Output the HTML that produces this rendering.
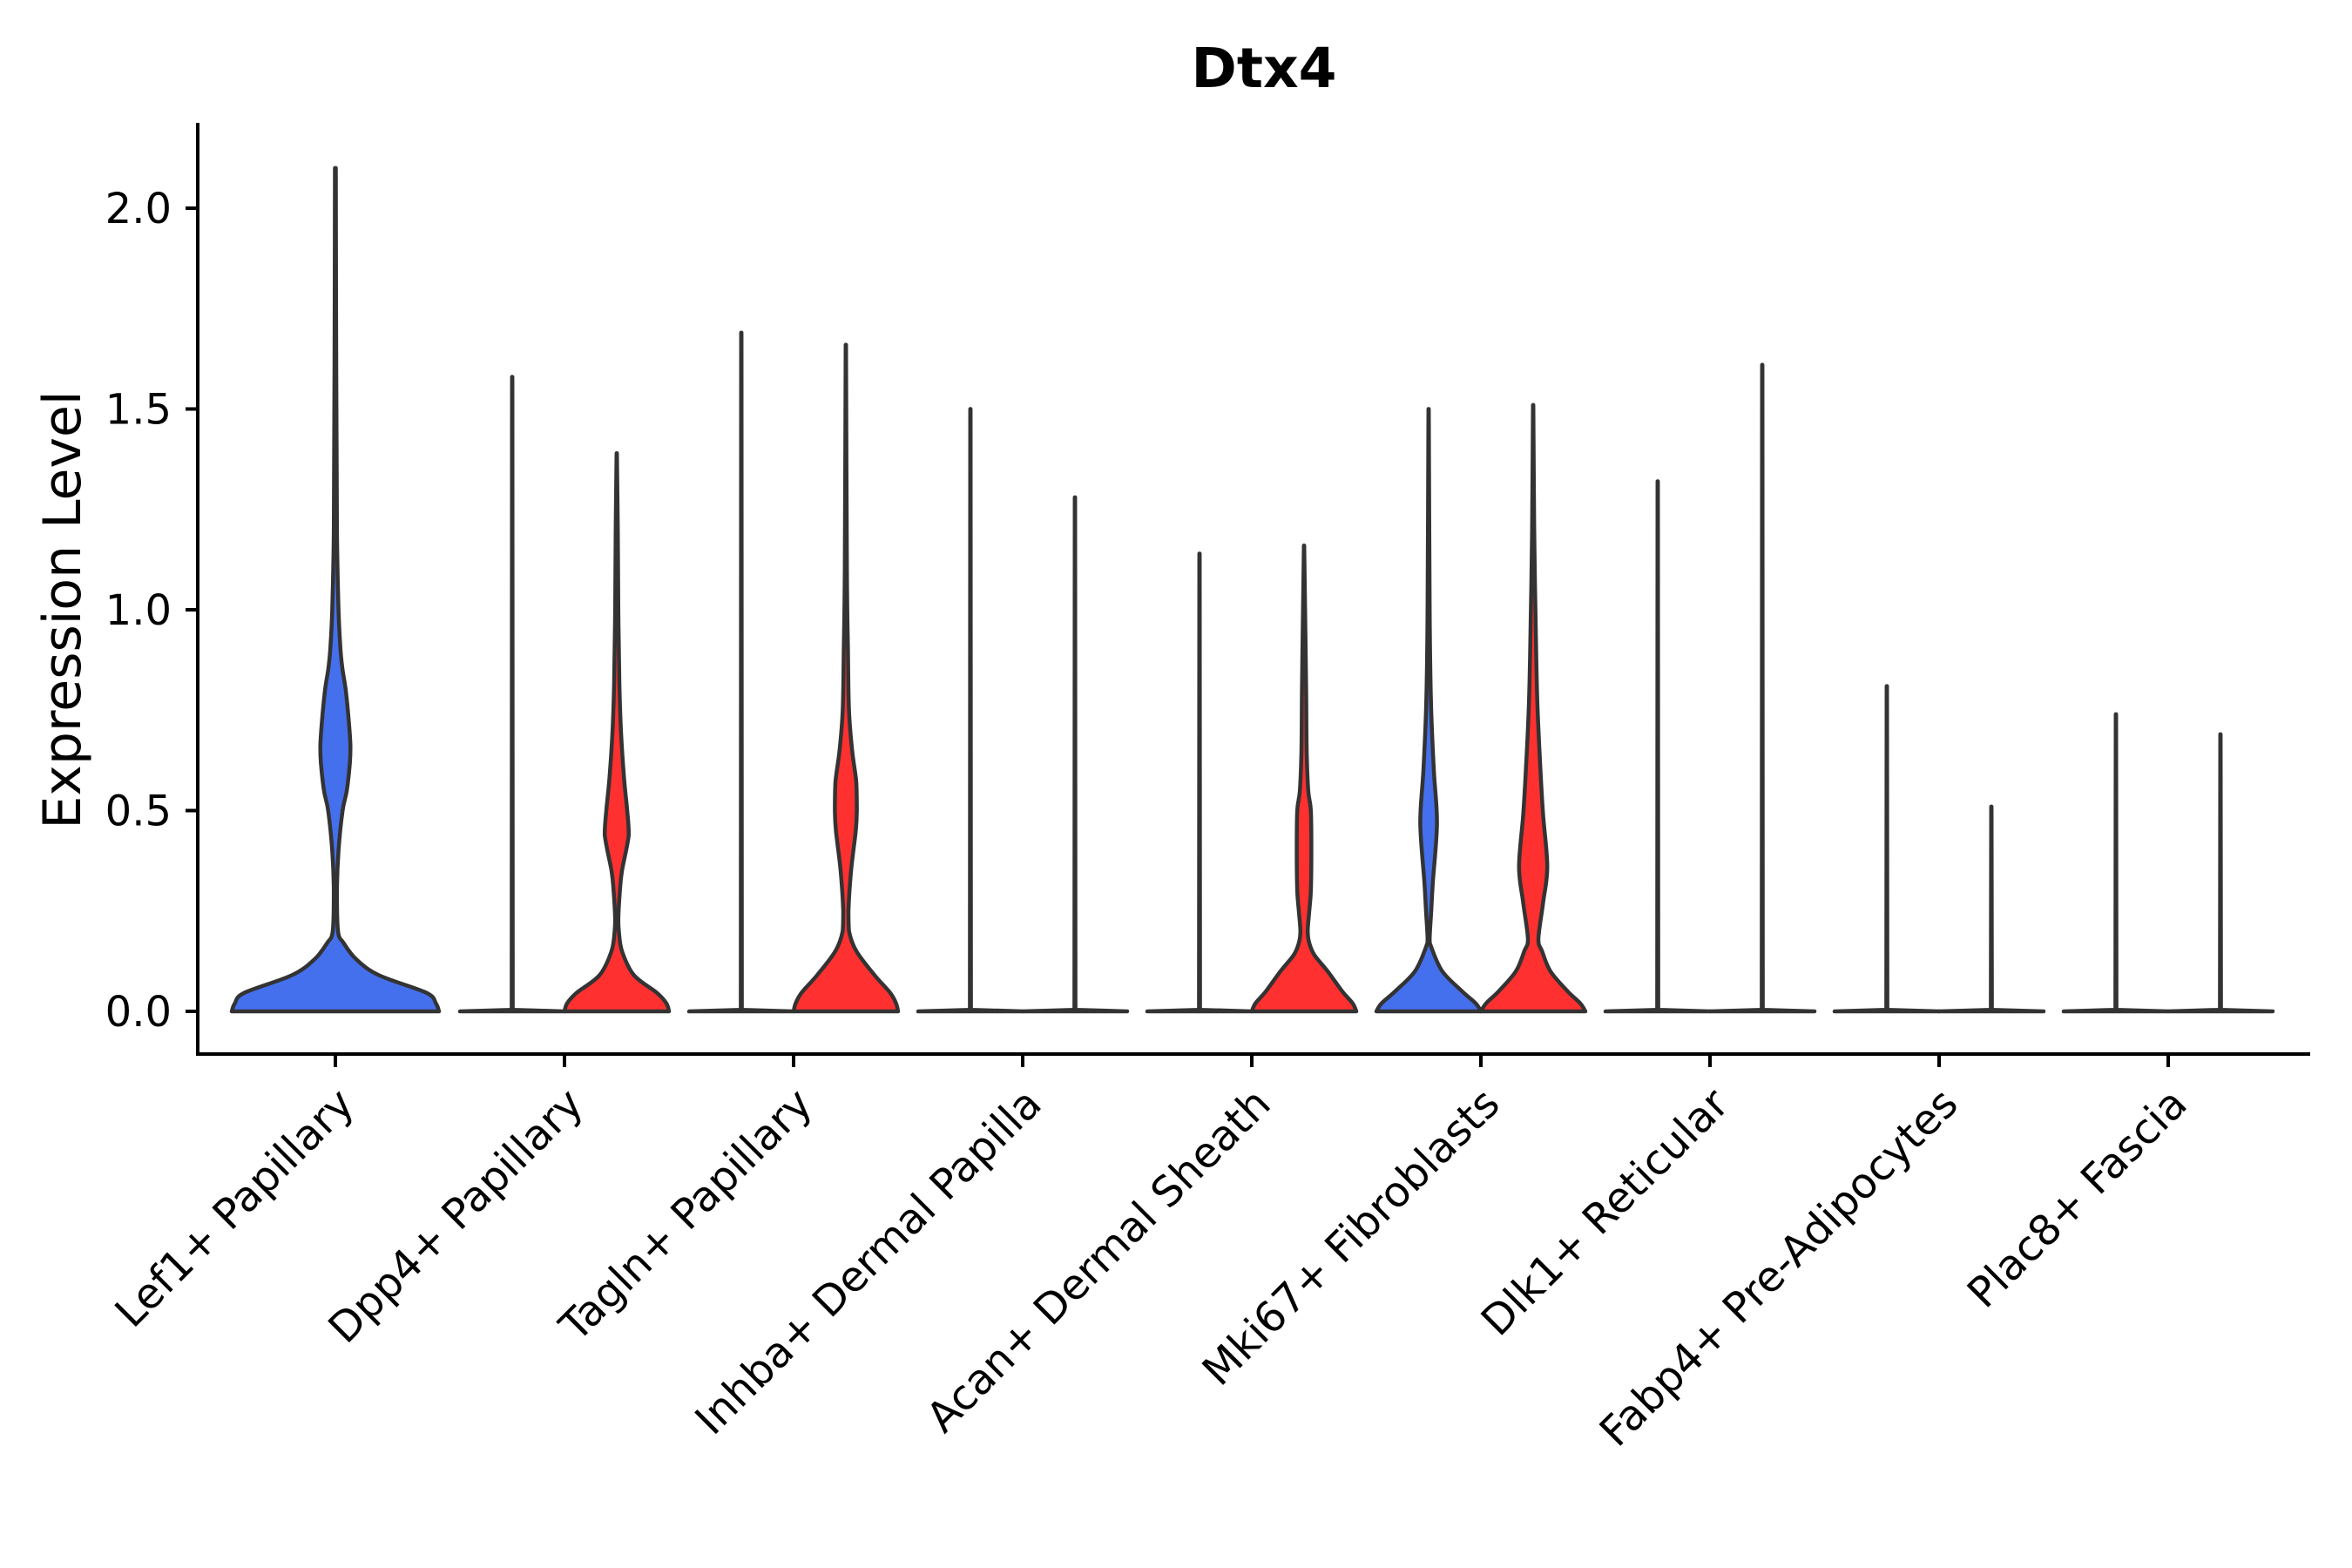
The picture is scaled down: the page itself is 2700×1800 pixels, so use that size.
<!DOCTYPE html>
<html><head><meta charset="utf-8"><style>
html,body{margin:0;padding:0;background:#fff}
svg{display:block}
text{font-family:"DejaVu Sans","Liberation Sans",sans-serif}
</style></head><body>
<svg id="chart" width="2700" height="1800" viewBox="0 0 2700 1800" xmlns="http://www.w3.org/2000/svg">
<text x="1451" y="100" text-anchor="middle" font-size="63" font-weight="bold">Dtx4</text>
<text transform="translate(92,700) rotate(-90)" text-anchor="middle" font-size="60">Expression Level</text>
<g id="plot"></g>
</svg>
<script>
const categories = ["Lef1+ Papillary","Dpp4+ Papillary","Tagln+ Papillary","Inhba+ Dermal Papilla","Acan+ Dermal Sheath","Mki67+ Fibroblasts","Dlk1+ Reticular","Fabp4+ Pre-Adipocytes","Plac8+ Fascia"];
const yTicks = [0, 0.5, 1.0, 1.5, 2.0];
const yTickLabels = ["0.0","0.5","1.0","1.5","2.0"];
// violins: category index, side (-1 left, 0 single, 1 right), group (0 blue, 1 red), max value
const violinCat  = [0, 1,1, 2,2, 3,3, 4,4, 5,5, 6,6, 7,7, 8,8];
const violinSide = [0, -1,1, -1,1, -1,1, -1,1, -1,1, -1,1, -1,1, -1,1];
const violinGroup= [0, 0,1, 0,1, 0,1, 0,1, 0,1, 0,1, 0,1, 0,1];
const violinMax  = [2.1, 1.58,1.39, 1.69,1.66, 1.5,1.28, 1.14,1.16, 1.5,1.51, 1.32,1.61, 0.81,0.51, 0.74,0.69];
const FLATV = [0, 0.004];
const FLATW = [1, 0.01];
// density profiles: values and relative half-widths
const profVals = [
 [0,0.02,0.046,0.09,0.13,0.17,0.2,0.3,0.4,0.5,0.55,0.62,0.66,0.72,0.8,0.85,0.9,1.0,1.2,1.6],
 FLATV,
 [0,0.02,0.046,0.09,0.15,0.2,0.23,0.3,0.35,0.44,0.5,0.58,0.7,0.82,1.0,1.2],
 FLATV,
 [0,0.02,0.046,0.09,0.15,0.2,0.25,0.35,0.45,0.5,0.57,0.65,0.75,0.9,1.1],
 FLATV, FLATV, FLATV,
 [0,0.02,0.05,0.1,0.14,0.17,0.2,0.25,0.3,0.4,0.5,0.55,0.65,0.8,1.0],
 [0,0.02,0.05,0.1,0.16,0.18,0.25,0.32,0.47,0.6,0.77,1.0],
 [0,0.02,0.05,0.1,0.15,0.18,0.27,0.36,0.49,0.6,0.77,0.99,1.2],
 FLATV, FLATV, FLATV, FLATV, FLATV, FLATV
];
const profWidths = [
 [1,0.97,0.88,0.42,0.2,0.08,0.025,0.015,0.03,0.07,0.11,0.14,0.145,0.13,0.1,0.07,0.05,0.03,0.015,0.008],
 FLATW,
 [1,0.95,0.77,0.33,0.1,0.04,0.03,0.06,0.1,0.23,0.2,0.14,0.08,0.05,0.03,0.02],
 FLATW,
 [1,0.96,0.85,0.55,0.2,0.06,0.05,0.1,0.19,0.21,0.2,0.12,0.06,0.04,0.02],
 FLATW, FLATW, FLATW,
 [1,0.93,0.73,0.45,0.2,0.1,0.07,0.1,0.13,0.14,0.13,0.08,0.05,0.04,0.02],
 [1,0.9,0.64,0.26,0.05,0.02,0.05,0.08,0.16,0.1,0.045,0.02],
 [1,0.9,0.66,0.33,0.17,0.1,0.19,0.27,0.19,0.14,0.08,0.045,0.02],
 FLATW, FLATW, FLATW, FLATW, FLATW, FLATW
];
const groupColors = ["#4570ED","#FF3030"];

const NS = "http://www.w3.org/2000/svg";
const plot = document.getElementById("plot");
const X0 = 385, XSTEP = 263, Y0 = 1161, YUNIT = 461;
function xScale(i){ return X0 + XSTEP*i; }
function yScale(v){ return Y0 - YUNIT*v; }
function mk(tag, attrs){ const e=document.createElementNS(NS,tag); for(const k in attrs) e.setAttribute(k,attrs[k]); plot.appendChild(e); return e; }
function clamp(v,a,b){ const lo=Math.min(a,b), hi=Math.max(a,b); return Math.max(lo,Math.min(hi,v)); }
// smooth path through points; control points clamped to each segment's box (no overshoot)
function smooth(pts, straight){
  let d = "M"+pts[0][0].toFixed(1)+","+pts[0][1].toFixed(1);
  for(let i=0;i<pts.length-1;i++){
    const p0=pts[Math.max(0,i-1)], p1=pts[i], p2=pts[i+1], p3=pts[Math.min(pts.length-1,i+2)];
    if(straight){ d += " L"+p2[0].toFixed(1)+","+p2[1].toFixed(1); continue; }
    const c1=[clamp(p1[0]+(p2[0]-p0[0])/6,p1[0],p2[0]), clamp(p1[1]+(p2[1]-p0[1])/6,p1[1],p2[1])];
    const c2=[clamp(p2[0]-(p3[0]-p1[0])/6,p1[0],p2[0]), clamp(p2[1]-(p3[1]-p1[1])/6,p1[1],p2[1])];
    d += " C"+c1[0].toFixed(1)+","+c1[1].toFixed(1)+" "+c2[0].toFixed(1)+","+c2[1].toFixed(1)+" "+p2[0].toFixed(1)+","+p2[1].toFixed(1);
  }
  return d;
}

// violins
for(let i=0;i<violinCat.length;i++){
  const side = violinSide[i];
  const cx = xScale(violinCat[i]) + side*60;
  const hw = side===0 ? 119 : 60;
  const vals = profVals[i].slice(), wids = profWidths[i].slice();
  vals.push(violinMax[i]); wids.push(0.004);
  const straight = vals.length <= 3;
  let right=[], left=[];
  for(let j=0;j<vals.length;j++){
    right.push([cx+wids[j]*hw, yScale(vals[j])]);
    left.unshift([cx-wids[j]*hw, yScale(vals[j])]);
  }
  const d = smooth(right, straight) + " L" + smooth(left, straight).slice(1) + " Z";
  const p = mk("path",{d:d,fill:groupColors[violinGroup[i]],stroke:"#333333","stroke-width":"4.5","stroke-linejoin":"round","stroke-linecap":"round"});
  
  
}

// axes
const yAxis = mk("line",{x1:227,y1:141,x2:227,y2:1211,stroke:"#000","stroke-width":"4"});


const xAxis = mk("line",{x1:225,y1:1210,x2:2652,y2:1210,stroke:"#000","stroke-width":"4"});



for(let k=0;k<yTicks.length;k++){
  const y = yScale(yTicks[k]);
  const t = mk("line",{x1:213,y1:y,x2:227,y2:y,stroke:"#000","stroke-width":"4"});
  
  
  const l = mk("text",{x:197,y:y+17,"text-anchor":"end","font-size":"48"});
  l.textContent = yTickLabels[k];
  
  
}
for(let i=0;i<categories.length;i++){
  const x = xScale(i);
  const t = mk("line",{x1:x,y1:1210,x2:x,y2:1225,stroke:"#000","stroke-width":"4"});
  
  
  const l = mk("text",{transform:"translate("+(x+24)+",1270) rotate(-45)","text-anchor":"end","font-size":"48"});
  l.textContent = categories[i];
  
  
}
</script>
</body></html>
